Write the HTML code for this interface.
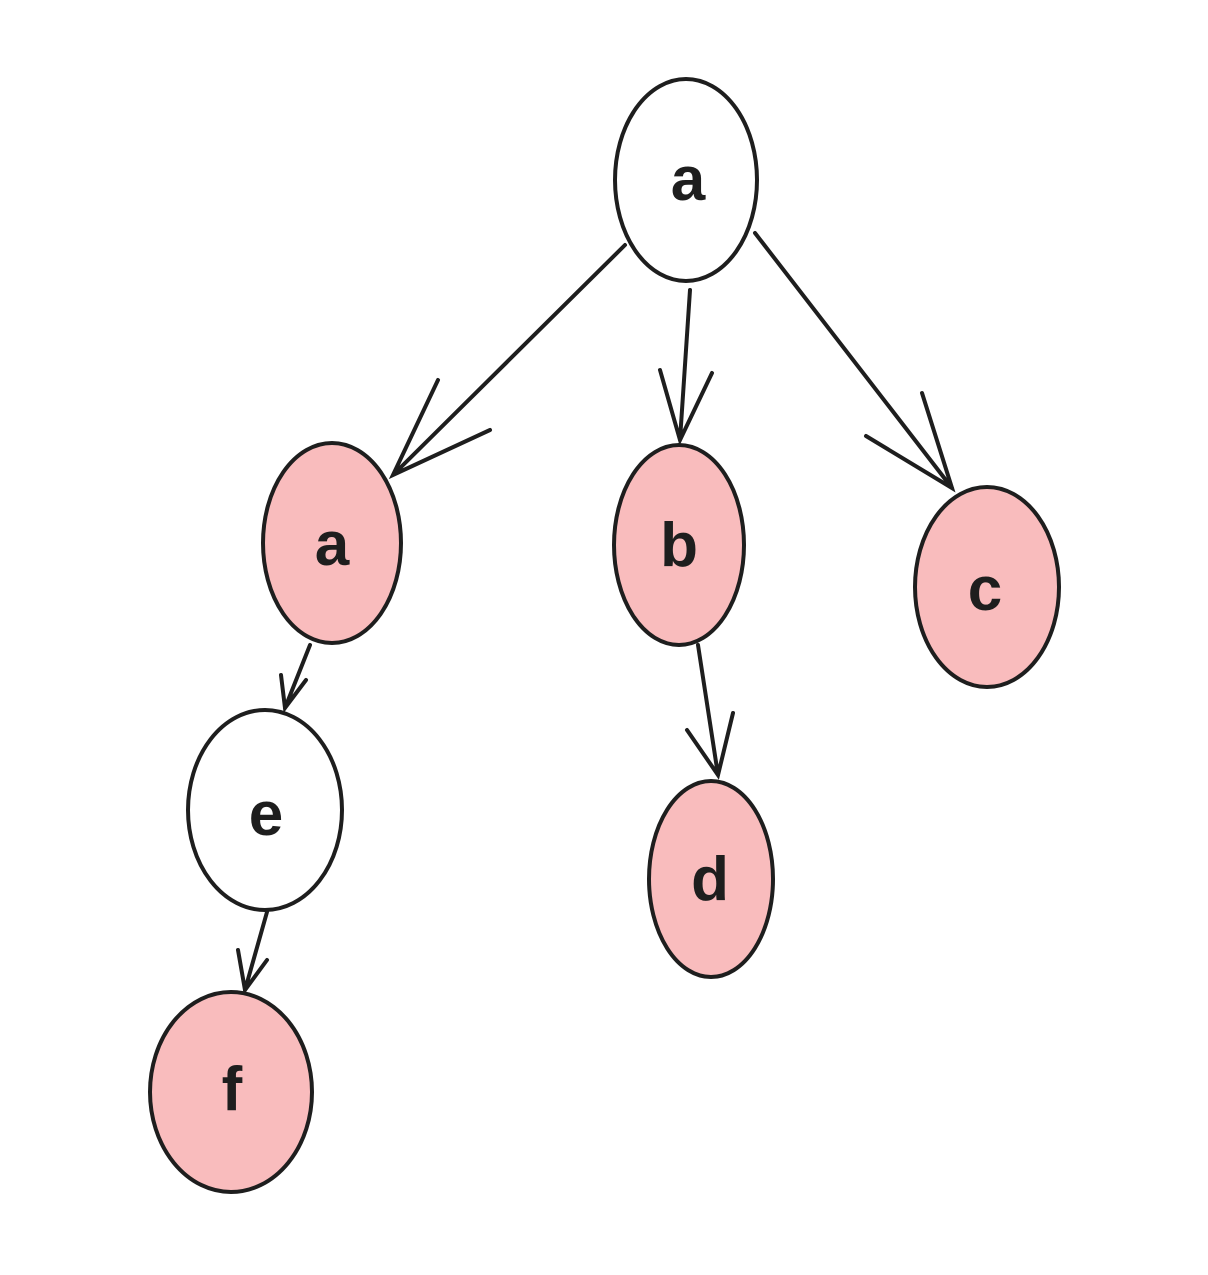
<!DOCTYPE html>
<html><head><meta charset="utf-8"><style>html,body{margin:0;padding:0;background:#fff}</style></head>
<body>
<svg width="1208" height="1270" viewBox="0 0 1208 1270" xmlns="http://www.w3.org/2000/svg">
<g stroke="#1e1e1e" stroke-width="4" stroke-linecap="round" fill="none">
<ellipse cx="686" cy="180" rx="71" ry="101" fill="#fff"/>
<ellipse cx="332" cy="543" rx="69" ry="100" fill="#f9bcbd"/>
<ellipse cx="679" cy="545" rx="65" ry="100" fill="#f9bcbd"/>
<ellipse cx="987" cy="587" rx="72" ry="100" fill="#f9bcbd"/>
<ellipse cx="265" cy="810" rx="77" ry="100" fill="#fff"/>
<ellipse cx="711" cy="879" rx="62" ry="98" fill="#f9bcbd"/>
<ellipse cx="231" cy="1092" rx="81" ry="100" fill="#f9bcbd"/>
<path d="M625 245 L393 475 M438 380 L393 475 L490 430"/>
<path d="M690 290 L680 440 M660 370 L680 440 L712 373"/>
<path d="M755 233 L952 488 M922 393 L952 488 L866 436"/>
<path d="M310 645 L285 708 M281 675 L285 708 L306 680"/>
<path d="M698 645 L718 775 M687 730 L718 775 L733 713"/>
<path d="M267 912 L245 990 M238 950 L245 990 L267 960"/>
</g>
<g font-family="Liberation Sans, sans-serif" font-size="62" font-weight="bold" fill="#1e1e1e" text-anchor="middle">
<text x="688" y="200">a</text>
<text x="332" y="565">a</text>
<text x="679" y="566">b</text>
<text x="985" y="610">c</text>
<text x="266" y="835">e</text>
<text x="710" y="900">d</text>
<text x="232" y="1110">f</text>
</g>
</svg>
</body></html>
